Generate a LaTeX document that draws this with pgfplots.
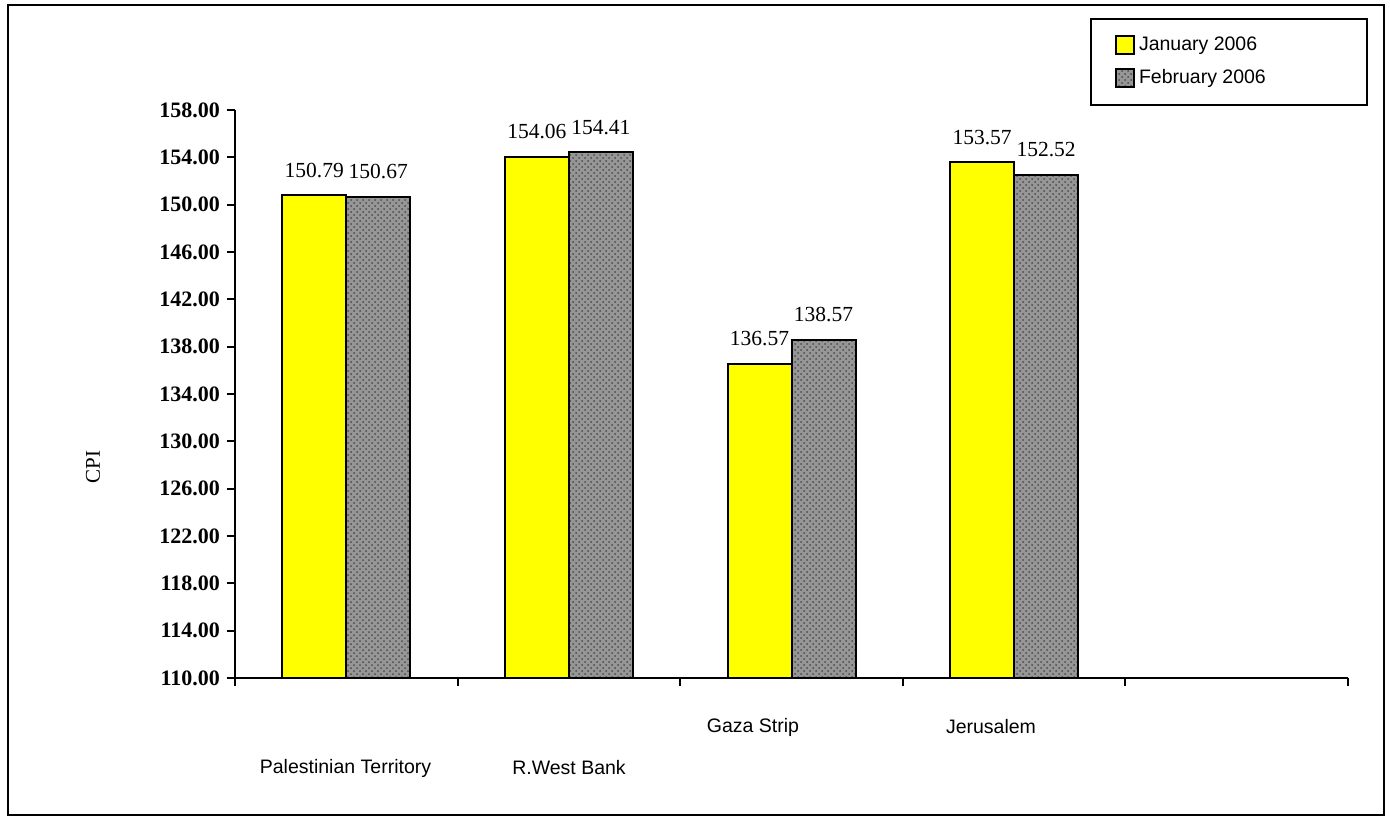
\documentclass[border=0pt]{standalone}
\usepackage{pgfplots}
\pgfplotsset{compat=1.18}
\usetikzlibrary{patterns}
\usepackage{fontspec}
\setmainfont{Liberation Serif}
\setsansfont{Liberation Sans}

\definecolor{janyellow}{RGB}{255,255,0}
\definecolor{febgray}{RGB}{150,150,150}

\begin{document}
\begin{tikzpicture}
\useasboundingbox (-117.5pt,-71.5pt) rectangle (577.5pt,339pt);
\draw[line width=1pt] (-113.5pt,-68.5pt) rectangle (574.5pt,336.5pt);
\begin{axis}[
    at={(0,0)}, anchor=south west,
    scale only axis,
    width=556.5pt, height=284pt,
    ybar=0pt, bar width=32pt,
    xmin=-0.5, xmax=4.5,
    ymin=110, ymax=158,
    xtick={-0.5,0.5,1.5,2.5,3.5,4.5},
    xticklabels={},
    ytick={110,114,...,158},
    axis lines*=left,
    axis line style={line width=1pt},
    tick align=outside,
    major tick length=4pt,
    tick style={line width=1pt, black},
    yticklabel style={font=\fontsize{11}{13}\selectfont\bfseries},
    /pgf/number format/assume math mode=true,
    yticklabel={\pgfmathprintnumber[fixed,fixed zerofill,precision=2]{\tick}},
    ylabel={CPI},
    ylabel style={font=\fontsize{10.5}{12}\selectfont},
    every axis y label/.append style={at={(-71pt,105.5pt)}, anchor=center},
    nodes near coords,
    nodes near coords style={font=\fontsize{10.75}{12}\selectfont, inner sep=0pt, yshift=8.5pt,
        /pgf/number format/.cd, fixed, fixed zerofill, precision=2, assume math mode=true},
    clip=false,
    legend style={at={(427.5pt,330pt)}, anchor=north west,
        draw=black, line width=1pt,
        font=\sffamily\fontsize{9.75}{11}\selectfont,
        inner xsep=12pt, inner ysep=7pt, row sep=4pt,
        cells={anchor=west}},
    legend image code/.code={\draw[#1, line width=1pt] (0pt,-4.5pt) rectangle (9pt,4.5pt);},
]
\addplot[draw=black, line width=1pt, fill=janyellow]
    coordinates {(0,150.79) (1,154.06) (2,136.57) (3,153.57)};
\addplot[draw=black, line width=1pt, fill=febgray,
    postaction={pattern=crosshatch dots, pattern color=black!70}]
    coordinates {(0,150.67) (1,154.41) (2,138.57) (3,152.52)};
\legend{\makebox[100pt][l]{January 2006}, \makebox[100pt][l]{February 2006}}
\end{axis}
\begin{scope}[font=\sffamily\fontsize{9.75}{11}\selectfont]
\node at (55.25pt,-45pt) {Palestinian Territory};
\node at (167pt,-45pt) {R.West Bank};
\node at (259pt,-24.5pt) {Gaza Strip};
\node at (378pt,-24.5pt) {Jerusalem};
\end{scope}
\end{tikzpicture}
\end{document}
